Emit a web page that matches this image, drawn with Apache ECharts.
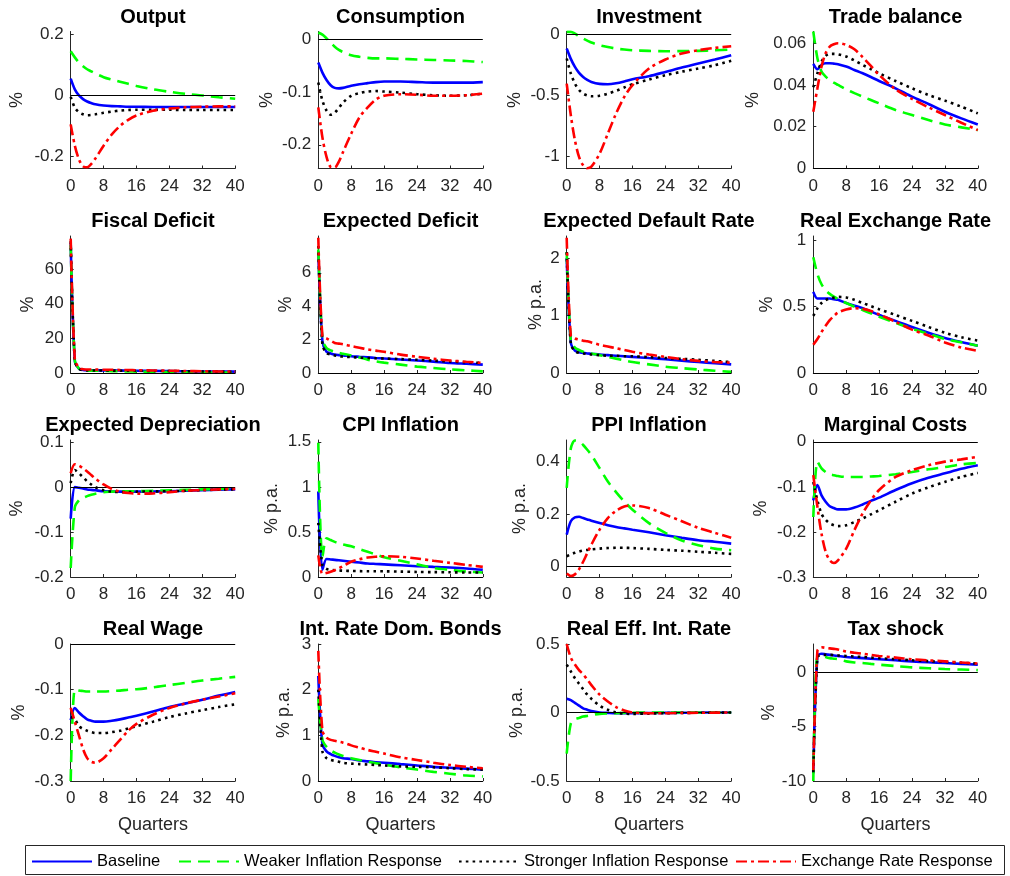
<!DOCTYPE html>
<html><head><meta charset="utf-8">
<script src="https://cdn.jsdelivr.net/npm/echarts@6/dist/echarts.min.js"></script>
<style>html,body{margin:0;padding:0;background:#fff}#c{width:1010px;height:876px}</style>
</head><body><div id="c"></div><script>
// ---------- DATA ----------
const quarters = [0,1,2,3,4,5,6,8,10,12,14,16,20,24,28,32,36,40];
const seriesNames = ['Baseline','Weaker Inflation Response','Stronger Inflation Response','Exchange Rate Response'];
const titles = ['Output','Consumption','Investment','Trade balance','Fiscal Deficit','Expected Deficit','Expected Default Rate','Real Exchange Rate','Expected Depreciation','CPI Inflation','PPI Inflation','Marginal Costs','Real Wage','Int. Rate Dom. Bonds','Real Eff. Int. Rate','Tax shock'];
const yUnits = ['%','%','%','%','%','%','% p.a.','%','%','% p.a.','% p.a.','%','%','% p.a.','% p.a.','%'];
const yTicks = [[-0.2,0,0.2],[-0.2,-0.1,0],[-1,-0.5,0],[0,0.02,0.04,0.06],[0,20,40,60],[0,2,4,6],[0,1,2],[0,0.5,1],[-0.2,-0.1,0,0.1],[0,0.5,1,1.5],[0,0.2,0.4],[-0.3,-0.2,-0.1,0],[-0.3,-0.2,-0.1,0],[0,1,2,3],[-0.5,0,0.5],[-10,-5,0]];
const xTicks = [0,8,16,24,32,40];

const output_base = [0.055,0.02,0.0,-0.012,-0.02,-0.025,-0.029,-0.033,-0.035,-0.036,-0.037,-0.037,-0.038,-0.038,-0.038,-0.038,-0.038,-0.038];
const output_weak = [0.145,0.125,0.108,0.096,0.086,0.079,0.072,0.06,0.052,0.045,0.038,0.031,0.02,0.012,0.005,0.0,-0.006,-0.011];
const output_strong = [-0.005,-0.04,-0.055,-0.062,-0.065,-0.064,-0.062,-0.057,-0.053,-0.05,-0.048,-0.047,-0.047,-0.047,-0.048,-0.048,-0.048,-0.048];
const output_fx = [-0.095,-0.165,-0.21,-0.233,-0.236,-0.225,-0.207,-0.165,-0.128,-0.1,-0.08,-0.066,-0.05,-0.043,-0.039,-0.037,-0.036,-0.036];

const cons_base = [-0.044,-0.063,-0.077,-0.087,-0.092,-0.093,-0.092,-0.088,-0.085,-0.083,-0.081,-0.08,-0.08,-0.081,-0.082,-0.082,-0.082,-0.081];
const cons_weak = [0.013,0.009,0.002,-0.006,-0.014,-0.02,-0.024,-0.03,-0.033,-0.035,-0.036,-0.036,-0.037,-0.038,-0.039,-0.04,-0.041,-0.043];
const cons_strong = [-0.082,-0.116,-0.135,-0.143,-0.139,-0.13,-0.12,-0.107,-0.102,-0.099,-0.098,-0.099,-0.101,-0.104,-0.106,-0.107,-0.106,-0.103];
const cons_fx = [-0.129,-0.186,-0.223,-0.242,-0.243,-0.232,-0.214,-0.179,-0.148,-0.129,-0.114,-0.107,-0.104,-0.105,-0.107,-0.107,-0.106,-0.103];

const inv_base = [-0.115,-0.2,-0.266,-0.315,-0.348,-0.372,-0.389,-0.405,-0.408,-0.4,-0.385,-0.367,-0.342,-0.307,-0.271,-0.238,-0.205,-0.17];
const inv_weak = [0.022,0.022,0.008,-0.014,-0.033,-0.05,-0.066,-0.088,-0.103,-0.115,-0.123,-0.129,-0.134,-0.137,-0.136,-0.134,-0.129,-0.123];
const inv_strong = [-0.197,-0.32,-0.403,-0.455,-0.485,-0.5,-0.507,-0.502,-0.485,-0.462,-0.435,-0.408,-0.37,-0.334,-0.305,-0.279,-0.252,-0.215];
const inv_fx = [-0.403,-0.663,-0.868,-1.005,-1.074,-1.098,-1.085,-0.978,-0.814,-0.649,-0.512,-0.416,-0.279,-0.205,-0.156,-0.129,-0.11,-0.096];

const tb_base = [0.0501,0.0475,0.0496,0.0504,0.0504,0.0502,0.0499,0.0488,0.0472,0.0456,0.0438,0.0419,0.0384,0.0344,0.0309,0.0272,0.024,0.0211];
const tb_weak = [0.0656,0.0528,0.0464,0.044,0.0424,0.0411,0.04,0.0379,0.0361,0.0344,0.0328,0.0312,0.028,0.0256,0.0232,0.0211,0.0197,0.0184];
const tb_strong = [0.0389,0.0456,0.0512,0.0539,0.0549,0.0549,0.0547,0.0536,0.0517,0.0496,0.0476,0.0456,0.0419,0.0384,0.0352,0.0325,0.0296,0.0264];
const tb_fx = [0.0272,0.0384,0.0488,0.0552,0.0584,0.0595,0.06,0.0592,0.0571,0.0533,0.0491,0.0448,0.0379,0.0333,0.0293,0.0256,0.0219,0.0184];

const fd_base = [75,7,2.5,1.8,1.6,1.55,1.5,1.5,1.45,1.4,1.35,1.3,1.2,1.1,1.0,0.9,0.85,0.8];
const fd_weak = [74,7.2,2.6,1.6,1.4,1.35,1.3,1.2,1.1,1.0,0.9,0.8,0.65,0.5,0.4,0.3,0.25,0.2];
const fd_strong = [76,7,2.4,1.6,1.5,1.45,1.45,1.4,1.4,1.35,1.3,1.3,1.2,1.1,1.0,0.9,0.8,0.7];
const fd_fx = [77.5,8,3,2.2,2.0,2.0,1.95,1.9,1.85,1.75,1.7,1.6,1.45,1.3,1.15,1.0,0.9,0.8];

const ed_base = [7.3,1.9,1.27,1.17,1.1,1.07,1.05,1.0,0.97,0.94,0.9,0.87,0.81,0.75,0.68,0.6,0.55,0.5];
const ed_weak = [7.4,2.0,1.5,1.35,1.27,1.2,1.15,1.05,0.93,0.8,0.7,0.62,0.5,0.38,0.3,0.22,0.16,0.1];
const ed_strong = [7.6,1.7,1.2,1.1,1.05,1.0,0.98,0.95,0.92,0.9,0.88,0.87,0.83,0.79,0.74,0.69,0.64,0.6];
const ed_fx = [8.1,2.2,2.07,1.93,1.8,1.76,1.72,1.61,1.51,1.41,1.34,1.27,1.1,0.97,0.85,0.75,0.67,0.6];

const edr_base = [2.0,0.53,0.39,0.36,0.35,0.34,0.335,0.32,0.31,0.3,0.29,0.28,0.26,0.24,0.215,0.19,0.17,0.15];
const edr_weak = [2.1,0.56,0.44,0.4,0.37,0.35,0.34,0.31,0.28,0.25,0.22,0.19,0.15,0.11,0.085,0.06,0.04,0.02];
const edr_strong = [2.1,0.5,0.38,0.35,0.34,0.33,0.32,0.31,0.3,0.3,0.29,0.29,0.275,0.26,0.245,0.23,0.21,0.19];
const edr_fx = [2.35,0.65,0.6,0.58,0.56,0.55,0.53,0.49,0.46,0.43,0.4,0.37,0.32,0.28,0.24,0.21,0.19,0.18];

const rer_base = [0.61,0.56,0.56,0.56,0.56,0.555,0.55,0.526,0.506,0.487,0.462,0.436,0.392,0.346,0.303,0.264,0.233,0.205];
const rer_weak = [0.87,0.744,0.667,0.623,0.595,0.574,0.556,0.526,0.5,0.474,0.448,0.423,0.377,0.333,0.295,0.256,0.231,0.205];
const rer_strong = [0.43,0.487,0.526,0.548,0.56,0.567,0.572,0.568,0.55,0.526,0.503,0.48,0.436,0.392,0.346,0.303,0.269,0.244];
const rer_fx = [0.213,0.256,0.308,0.355,0.397,0.428,0.454,0.478,0.487,0.482,0.466,0.441,0.385,0.326,0.282,0.23,0.192,0.167];

const edep_base = [-0.07,0.0,-0.0015,-0.003,-0.005,-0.006,-0.007,-0.009,-0.0095,-0.01,-0.01,-0.01,-0.0095,-0.009,-0.008,-0.0065,-0.0055,-0.005];
const edep_weak = [-0.18,-0.045,-0.029,-0.024,-0.02,-0.017,-0.0145,-0.011,-0.01,-0.009,-0.009,-0.009,-0.008,-0.007,-0.006,-0.005,-0.004,-0.003];
const edep_strong = [0.009,0.038,0.031,0.022,0.013,0.006,0.0,-0.007,-0.01,-0.011,-0.011,-0.01,-0.0095,-0.009,-0.008,-0.0065,-0.0055,-0.005];
const edep_fx = [0.031,0.051,0.048,0.042,0.035,0.027,0.019,0.006,-0.004,-0.01,-0.013,-0.0145,-0.014,-0.011,-0.008,-0.0065,-0.005,-0.004];

const cpi_base = [0.95,0.08,0.2,0.195,0.19,0.185,0.18,0.17,0.16,0.15,0.145,0.14,0.13,0.12,0.112,0.105,0.095,0.08];
const cpi_weak = [1.49,0.22,0.43,0.41,0.39,0.375,0.36,0.34,0.31,0.28,0.25,0.22,0.18,0.14,0.1,0.08,0.06,0.05];
const cpi_strong = [0.6,0.13,0.09,0.08,0.075,0.072,0.07,0.067,0.065,0.064,0.063,0.063,0.06,0.056,0.054,0.052,0.05,0.049];
const cpi_fx = [0.24,0.037,0.045,0.058,0.075,0.097,0.12,0.17,0.196,0.216,0.225,0.23,0.224,0.205,0.18,0.157,0.134,0.112];

const ppi_base = [0.122,0.173,0.188,0.19,0.185,0.18,0.175,0.166,0.158,0.151,0.146,0.141,0.131,0.12,0.11,0.101,0.095,0.088];
const ppi_weak = [0.3,0.45,0.48,0.478,0.463,0.445,0.425,0.375,0.324,0.284,0.248,0.217,0.166,0.129,0.1,0.082,0.069,0.063];
const ppi_strong = [0.04,0.047,0.053,0.058,0.062,0.064,0.066,0.069,0.071,0.072,0.072,0.071,0.068,0.064,0.061,0.057,0.053,0.049];
const ppi_fx = [-0.026,-0.035,-0.029,-0.01,0.019,0.052,0.084,0.141,0.185,0.213,0.229,0.233,0.223,0.198,0.173,0.148,0.129,0.11];

const mc_base = [-0.13,-0.096,-0.119,-0.133,-0.143,-0.147,-0.15,-0.15,-0.146,-0.139,-0.131,-0.124,-0.107,-0.092,-0.08,-0.07,-0.06,-0.052];
const mc_weak = [-0.167,-0.044,-0.059,-0.067,-0.072,-0.074,-0.076,-0.078,-0.078,-0.078,-0.077,-0.076,-0.072,-0.067,-0.061,-0.056,-0.05,-0.047];
const mc_strong = [-0.089,-0.13,-0.16,-0.173,-0.181,-0.185,-0.187,-0.185,-0.178,-0.17,-0.161,-0.152,-0.133,-0.115,-0.101,-0.089,-0.078,-0.069];
const mc_fx = [-0.074,-0.144,-0.204,-0.244,-0.263,-0.269,-0.263,-0.237,-0.196,-0.159,-0.13,-0.107,-0.078,-0.063,-0.052,-0.044,-0.039,-0.033];

const rw_base = [-0.167,-0.14,-0.15,-0.158,-0.165,-0.168,-0.17,-0.17,-0.168,-0.165,-0.161,-0.157,-0.148,-0.138,-0.13,-0.122,-0.113,-0.105];
const rw_weak = [-0.3,-0.1,-0.102,-0.103,-0.104,-0.104,-0.104,-0.104,-0.103,-0.102,-0.1,-0.099,-0.095,-0.09,-0.085,-0.08,-0.076,-0.072];
const rw_strong = [-0.16,-0.165,-0.18,-0.186,-0.19,-0.193,-0.195,-0.195,-0.193,-0.19,-0.185,-0.18,-0.17,-0.16,-0.152,-0.145,-0.138,-0.132];
const rw_fx = [-0.14,-0.17,-0.2,-0.23,-0.25,-0.258,-0.26,-0.25,-0.23,-0.21,-0.19,-0.175,-0.155,-0.14,-0.13,-0.122,-0.115,-0.108];

const ir_base = [2.3,0.8,0.65,0.59,0.55,0.52,0.5,0.48,0.45,0.43,0.41,0.4,0.37,0.34,0.31,0.29,0.27,0.25];
const ir_weak = [1.8,0.9,0.75,0.67,0.62,0.58,0.55,0.5,0.46,0.42,0.39,0.36,0.3,0.25,0.2,0.16,0.12,0.1];
const ir_strong = [2.0,0.65,0.5,0.46,0.44,0.42,0.4,0.38,0.37,0.36,0.35,0.34,0.32,0.31,0.3,0.28,0.26,0.25];
const ir_fx = [2.85,1.1,0.95,0.9,0.88,0.86,0.84,0.78,0.73,0.68,0.64,0.6,0.52,0.46,0.4,0.35,0.31,0.28];

const rei_base = [0.1,0.09,0.07,0.05,0.03,0.02,0.01,0.0,-0.003,-0.005,-0.005,-0.005,-0.004,-0.003,-0.002,-0.001,0,0];
const rei_weak = [-0.3,-0.08,-0.05,-0.04,-0.03,-0.025,-0.02,-0.01,-0.007,-0.005,-0.003,-0.002,0,0,0,0,0,0];
const rei_strong = [0.35,0.3,0.25,0.21,0.17,0.13,0.1,0.05,0.02,0.0,-0.008,-0.01,-0.008,-0.005,-0.003,-0.002,-0.001,0];
const rei_fx = [0.5,0.4,0.35,0.31,0.28,0.24,0.2,0.13,0.08,0.04,0.015,0.0,-0.005,-0.005,-0.003,-0.002,-0.001,0];

const tax_base = [-9.3,1.5,1.7,1.65,1.6,1.55,1.5,1.4,1.35,1.3,1.25,1.2,1.1,1.0,0.92,0.85,0.77,0.7];
const tax_weak = [-10,1.5,1.5,1.4,1.3,1.25,1.2,1.0,0.9,0.85,0.77,0.7,0.57,0.45,0.37,0.3,0.25,0.2];
const tax_strong = [-9.2,1.4,1.6,1.6,1.6,1.58,1.55,1.5,1.45,1.4,1.35,1.3,1.2,1.1,1.02,0.95,0.87,0.8];
const tax_fx = [-9.0,2.0,2.3,2.25,2.2,2.15,2.1,1.9,1.8,1.7,1.6,1.5,1.35,1.2,1.1,1.0,0.9,0.8];

// ---------- LAYOUT / STYLE ----------
const panelSeries = [
  [output_base,output_weak,output_strong,output_fx],
  [cons_base,cons_weak,cons_strong,cons_fx],
  [inv_base,inv_weak,inv_strong,inv_fx],
  [tb_base,tb_weak,tb_strong,tb_fx],
  [fd_base,fd_weak,fd_strong,fd_fx],
  [ed_base,ed_weak,ed_strong,ed_fx],
  [edr_base,edr_weak,edr_strong,edr_fx],
  [rer_base,rer_weak,rer_strong,rer_fx],
  [edep_base,edep_weak,edep_strong,edep_fx],
  [cpi_base,cpi_weak,cpi_strong,cpi_fx],
  [ppi_base,ppi_weak,ppi_strong,ppi_fx],
  [mc_base,mc_weak,mc_strong,mc_fx],
  [rw_base,rw_weak,rw_strong,rw_fx],
  [ir_base,ir_weak,ir_strong,ir_fx],
  [rei_base,rei_weak,rei_strong,rei_fx],
  [tax_base,tax_weak,tax_strong,tax_fx]
];
const yRange = [[-0.24,0.21],[-0.245,0.015],[-1.1,0.025],[0,0.0656],[0,79],[0,8.2],[0,2.38],[0,1.03],[-0.2,0.105],[0,1.52],[-0.039,0.482],[-0.3,0.004],[-0.3,0],[0,3],[-0.5,0.5],[-10,2.6]];
const nameGaps = [45,42,43,51,34,23,22,37,45,37,38,43,43,25,31,30];
const colLeft = [70.7,318.3,566.7,813.3];
const colW = 164.5;
const rowTop = [31.5,236,440,644];
const rowH = 137;
const FONT = '"Liberation Sans", Arial, Helvetica, sans-serif';
const AX = '#262626';
const lineStyles = [
  {color:'#0000ff', type:'solid', width:2.6},
  {color:'#00ff00', type:[12,7], width:2.6},
  {color:'#000000', type:[2.6,4.2], width:2.6},
  {color:'#ff0000', type:[11,4,3,4], width:2.6}
];

const grids=[], xAxes=[], yAxes=[], series=[], graphics=[];
for (let i=0;i<16;i++){
  const r=Math.floor(i/4), c=i%4;
  grids.push({left:colLeft[c], top:rowTop[r], width:colW, height:rowH, containLabel:false, outerBoundsMode:'none'});
  xAxes.push({gridIndex:i, type:'value', min:0, max:40, interval:8,
    axisLine:{show:true, onZero:false, lineStyle:{color:AX, width:1}},
    axisTick:{show:true, inside:true, length:3, lineStyle:{color:AX}},
    axisLabel:{show:true, color:AX, fontSize:17, fontFamily:FONT, margin:9},
    splitLine:{show:false},
    name: r===3 ? 'Quarters' : '', nameLocation:'middle', nameGap:35,
    nameTextStyle:{fontSize:18, color:AX, fontFamily:FONT}});
  yAxes.push({gridIndex:i, type:'value', min:yRange[i][0], max:yRange[i][1],
    axisLine:{show:true, onZero:false, lineStyle:{color:AX, width:1}},
    axisTick:{show:true, inside:true, length:3, lineStyle:{color:AX}, customValues:yTicks[i]},
    axisLabel:{show:true, color:AX, fontSize:17, fontFamily:FONT, margin:7, customValues:yTicks[i], formatter:v=>String(v)},
    splitLine:{show:false},
    name:yUnits[i], nameLocation:'middle', nameGap:nameGaps[i], nameRotate:90,
    nameTextStyle:{fontSize:18, color:AX, fontFamily:FONT}});
  graphics.push({type:'text', x:colLeft[c]+colW/2, y:rowTop[r]-14.5, z:100,
    style:{text:titles[i], fill:'#000', font:'bold 20px '+FONT, textAlign:'center', textVerticalAlign:'middle', align:'center', verticalAlign:'middle'}});
  panelSeries[i].forEach((vals,k)=>{
    const s = {type:'line', name:seriesNames[k], xAxisIndex:i, yAxisIndex:i,
      data: quarters.map((q,j)=>[q, vals[j]]),
      symbol:'none', showSymbol:false, smooth:0.3,
      lineStyle:Object.assign({cap:'butt'}, lineStyles[k]), itemStyle:{color:lineStyles[k].color},
      emphasis:{disabled:true}, z:2+k};
    if (k===0 && yRange[i][0] <= 0 && yRange[i][1] >= 0) {
      s.markLine = {silent:true, symbol:['none','none'], label:{show:false}, animation:false,
        lineStyle:{color:'#000', width:1, type:'solid'}, emphasis:{disabled:true}, data:[{yAxis:0}]};
    }
    series.push(s);
  });
}
graphics.push({type:'rect', shape:{x:25.5, y:845.5, width:979, height:29}, z:0,
  style:{fill:'rgba(0,0,0,0)', stroke:AX, lineWidth:1}});

const legendLeft = [31,178,458,735];
const legends = seriesNames.map((n,k)=>({data:[n], left:legendLeft[k], top:853, padding:0,
  itemWidth:60, itemHeight:14, itemGap:0, selectedMode:false,
  itemStyle:{opacity:0},
  textStyle:{fontSize:16.5, color:'#000', fontFamily:FONT}}));

const chart = echarts.init(document.getElementById('c'), null, {renderer:'canvas'});
chart.setOption({animation:false, backgroundColor:'#fff', grid:grids, xAxis:xAxes, yAxis:yAxes,
  series:series, legend:legends, graphic:graphics, tooltip:{show:false}});
</script></body></html>
